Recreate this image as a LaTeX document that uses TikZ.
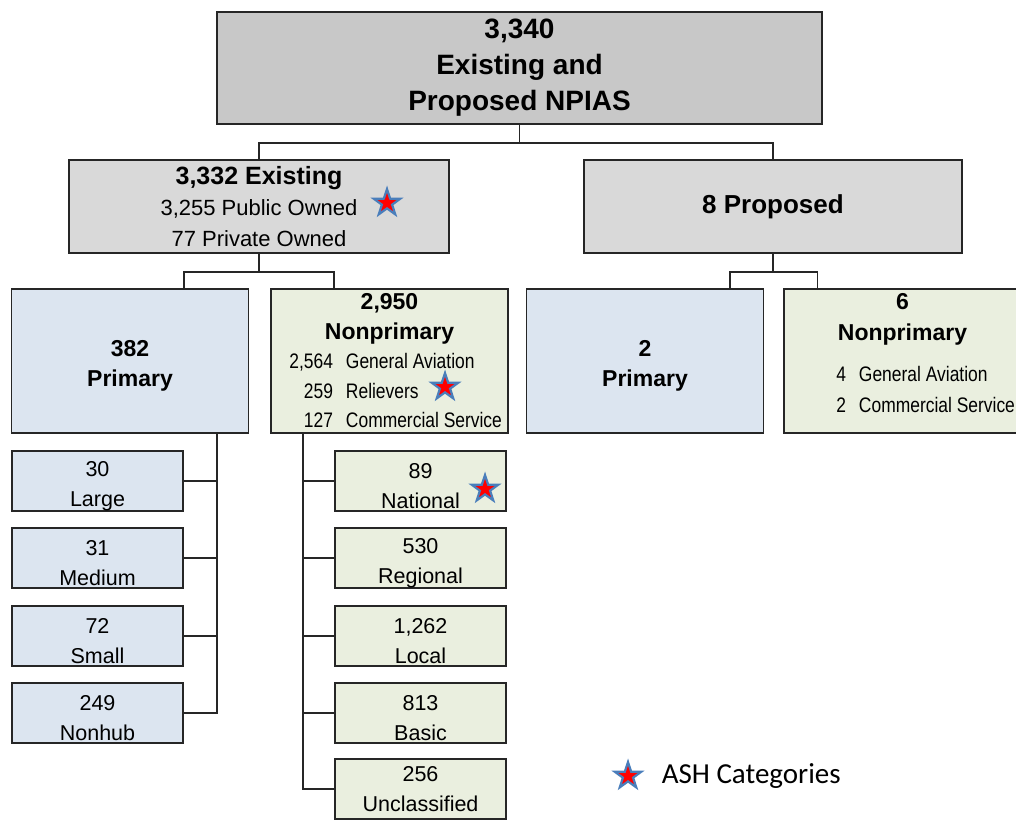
\documentclass[tikz,border=0pt]{standalone}
\usepackage{fontspec}
\setmainfont{Liberation Sans}
\newfontfamily\narrowfont[FakeStretch=0.83]{Liberation Sans}
\newfontfamily\legendfont{Carlito}
\usetikzlibrary{shapes.geometric}

\definecolor{topgray}{HTML}{C8C8C8}
\definecolor{midgray}{HTML}{D9D9D9}
\definecolor{paleblue}{HTML}{DCE5F0}
\definecolor{palegreen}{HTML}{EAEFDF}
\definecolor{starblue}{HTML}{4A7EBB}
\definecolor{linegray}{HTML}{262626}

\newcommand{\cnt}[3]{\makebox[#1][r]{#2}\hspace{13pt}\makebox[150pt][l]{#3}}
\newcommand{\tallrow}{\rule{0pt}{25pt}}

\begin{document}
\begin{tikzpicture}[x=1pt,y=-1pt,line width=1.6pt,draw=linegray,
  box/.style={draw=linegray,rectangle,inner sep=0pt,align=center},
  headbox/.style={box,fill=#1,font=\fontsize{22}{31}\selectfont},
  catbox/.style={box,fill=#1,minimum width=237pt,minimum height=144pt,font=\fontsize{23}{30}\selectfont\bfseries},
  subbox/.style={box,fill=#1,minimum width=171pt,minimum height=60pt,font=\fontsize{21.5}{29.5}\selectfont},
  ash/.style={star,star points=5,star point ratio=2.6,draw=starblue,fill=red,line width=2.2pt,minimum size=28pt,inner sep=0pt}]

\useasboundingbox (0,0) rectangle (1016,820);
\fill [white] (0,0) rectangle (1016,820);

\node [box,fill=topgray,minimum width=605pt,minimum height=112pt,font=\fontsize{28}{36}\selectfont\bfseries] (total) at (519.5,68) {3,340\\Existing and\\Proposed NPIAS};

\node [headbox=midgray,minimum width=380pt,minimum height=93pt] (existing) at (259,206.5) {{\bfseries\fontsize{25}{31}\selectfont 3,332 Existing}\\3,255 Public Owned\\77 Private Owned};
\node [headbox=midgray,minimum width=378pt,minimum height=93pt,font=\fontsize{26}{31}\selectfont\bfseries] (proposed) at (773,206.5) {8 Proposed};

\node [catbox=paleblue] (primary) at (130,361) {\tallrow382\\Primary};
\node [catbox=palegreen,font=\fontsize{21}{29.5}\selectfont] (nonprimary) at (389.5,361) {{\bfseries\fontsize{23}{29.5}\selectfont 2,950}\\{\bfseries\fontsize{23}{29.5}\selectfont Nonprimary}\\
  {\narrowfont\cnt{50pt}{2,564}{General Aviation}}\\{\narrowfont\cnt{50pt}{259}{Relievers}}\\{\narrowfont\cnt{50pt}{127}{Commercial Service}}};
\node [catbox=paleblue] (pprimary) at (645,361) {\tallrow2\\Primary};
\node [catbox=palegreen,font=\fontsize{21}{30.5}\selectfont] (pnonprimary) at (902.5,361) {{\bfseries\fontsize{23}{30.5}\selectfont 6}\\{\bfseries\fontsize{23}{30.5}\selectfont Nonprimary}\\[11pt]
  {\narrowfont\hspace*{38pt}\cnt{12pt}{4}{General Aviation}}\\{\narrowfont\hspace*{38pt}\cnt{12pt}{2}{Commercial Service}}\\[-14pt]\mbox{}};

\node [subbox=paleblue] (large) at (97.5,481) {\tallrow30\\Large};
\node [subbox=paleblue] (medium) at (97.5,558) {\tallrow31\\Medium};
\node [subbox=paleblue] (small) at (97.5,636) {\tallrow72\\Small};
\node [subbox=paleblue] (nonhub) at (97.5,713) {\tallrow249\\Nonhub};

\node [subbox=palegreen] (national) at (420.5,481) {\tallrow89\\National};
\node [subbox=palegreen] (regional) at (420.5,558) {\tallrow530\\Regional};
\node [subbox=palegreen] (local) at (420.5,636) {\tallrow1,262\\Local};
\node [subbox=palegreen] (basic) at (420.5,713) {\tallrow813\\Basic};
\node [subbox=palegreen] (unclassified) at (420.5,789) {256\\Unclassified};

\draw (total.south) -- ++(0,18) -| (existing.north);
\draw (total.south) -- ++(0,18) -| (proposed.north);

\draw (existing.south) -- ++(0,18) -| (large.east |- primary.north);
\draw (existing.south) -- ++(0,18) -| (national.west |- nonprimary.north);
\draw (proposed.south) -- ++(0,18) -| ([xshift=85pt]pprimary.north);
\draw (proposed.south) -- ++(0,18) -| ([xshift=-85pt]pnonprimary.north);

\coordinate (pspine) at ([xshift=87pt]primary.south);
\draw (pspine) |- (nonhub.east);
\foreach \n in {large,medium,small} \draw (\n.east) -- (\n.east -| pspine);

\coordinate (nspine) at ([xshift=-86.5pt]nonprimary.south);
\draw (nspine) |- (unclassified.west);
\foreach \n in {national,regional,local,basic} \draw (\n.west) -- (\n.west -| nspine);

\node [ash] (starpublic) at (387,203) {};
\node [ash] (starreliever) at (445,387) {};
\node [ash] (starnational) at (485,489) {};
\node [ash] (starlegend) at (628,776) {};
\node [anchor=west,font=\legendfont\fontsize{29}{34}\selectfont,inner sep=0pt] (legend) at (661,776) {ASH Categories};

\end{tikzpicture}
\end{document}
